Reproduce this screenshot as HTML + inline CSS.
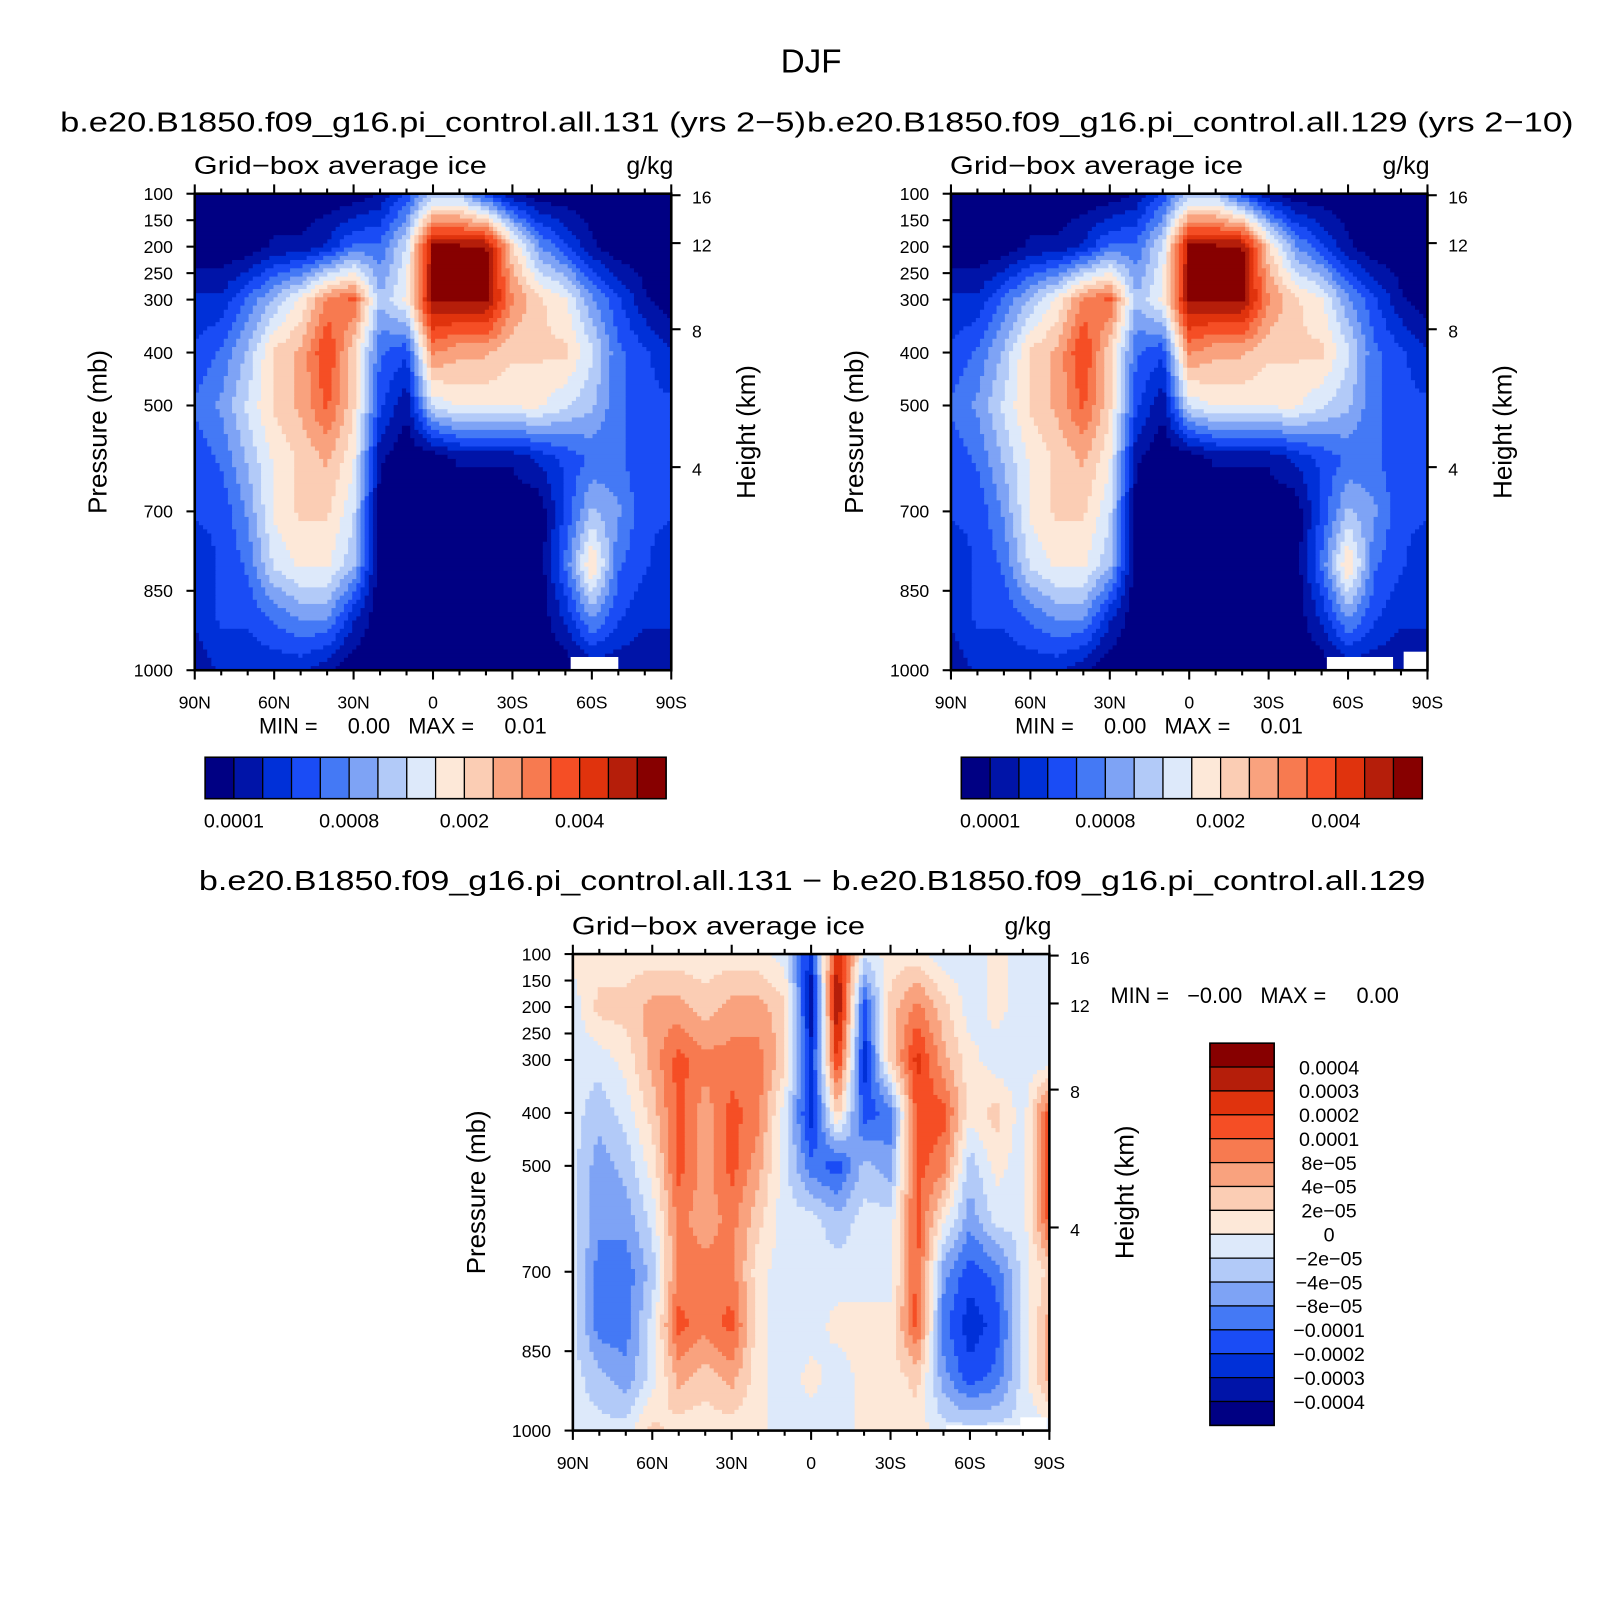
<!DOCTYPE html>
<html><head><meta charset="utf-8"><style>
body{margin:0;background:#fff;}
svg text{font-family:"Liberation Sans",sans-serif;fill:#000;}
</style></head><body>
<svg id="root" width="1616" height="1616" viewBox="0 0 1616 1616" xmlns="http://www.w3.org/2000/svg">
<g transform="scale(1.0359)">
<text x="783" y="70" font-size="32" text-anchor="middle">DJF</text>
<text x="58" y="127" font-size="27" textLength="720" lengthAdjust="spacingAndGlyphs">b.e20.B1850.f09_g16.pi_control.all.131 (yrs 2−5)</text>
<text x="779" y="127" font-size="27" textLength="740" lengthAdjust="spacingAndGlyphs">b.e20.B1850.f09_g16.pi_control.all.129 (yrs 2−10)</text>
<text x="192" y="859" font-size="27" textLength="1184" lengthAdjust="spacingAndGlyphs">b.e20.B1850.f09_g16.pi_control.all.131 − b.e20.B1850.f09_g16.pi_control.all.129</text>
<g id="panels"></g>
</g>
</svg>
<script>
const palette=['#000083','#0014a8','#0030d8','#1a4cf5','#4479f5','#7ea3f5','#b2caf8','#dde9fa','#fde8d8','#fbcdb4','#f9a27e','#f77a50','#f54e25','#e0330d','#b51e0a','#870000'];
const latLabels=['90N','60N','30N','0','30S','60S','90S'];
const presLabels=[100,150,200,250,300,400,500,700,850,1000];
const heightLabels=[16,12,8,4];
const cbarLabelsTop=['0.0001','0.0008','0.002','0.004'];
const cbarLabelsDiff=['0.0004','0.0003','0.0002','0.0001','8e−05','4e−05','2e−05','0','−2e−05','−4e−05','−8e−05','−0.0001','−0.0002','−0.0003','−0.0004'];
// rows: p=100..1000 step 100; cols: 90N..90S step 10 deg; values are contour class 0..15
const iceA=[
[0,0,0,0,0,0,0,1,3,6,6,3,1,0,0,0,0,0,0],
[0,0,0,1,1,2,4,4,7,15,15,15,9,5,3,1,0,0,0],
[2,2,4,6,8,11,12,6,8,15,15,15,11,9,8,5,3,1,0],
[3,4,6,9,10,13,9,4,3,11,10,10,9,9,9,7,4,3,2],
[4,5,7,9,10,12,9,3,1,7,8,8,8,8,7,6,4,3,3],
[3,4,6,8,9,10,8,1,0,0,1,1,1,2,3,4,4,3,3],
[3,3,5,8,9,9,7,0,0,0,0,0,0,0,3,6,5,3,3],
[2,3,4,7,8,8,6,0,0,0,0,0,0,0,4,9,4,3,2],
[2,3,3,4,5,5,2,0,0,0,0,0,0,0,2,5,3,2,2],
[1,2,2,2,2,1,0,0,0,0,0,0,0,0,0,1,1,1,1]];
const iceB=[
[0,0,0,0,0,0,0,1,3,6,6,3,1,0,0,0,0,0,0],
[0,0,0,1,1,2,4,4,7,15,15,15,9,5,3,1,0,0,0],
[2,2,4,6,8,11,12,6,8,15,15,15,11,9,8,5,3,1,0],
[3,4,6,9,10,13,9,4,3,11,10,10,9,9,9,7,4,3,2],
[4,5,7,9,10,12,9,3,1,7,8,8,8,8,7,6,4,3,3],
[3,4,6,8,9,10,8,1,0,0,1,1,1,2,3,4,4,3,3],
[3,3,5,8,9,9,7,0,0,0,0,0,0,0,3,6,5,3,3],
[2,3,4,7,8,8,6,0,0,0,0,0,0,0,4,9,4,3,2],
[2,3,3,4,5,5,2,0,0,0,0,0,0,0,2,5,3,2,2],
[1,2,2,2,2,1,0,0,0,0,0,0,0,0,0,1,1,1,1]];
const iceDiff=[
[8,8,8,8,8,8,8,8,7,2,14,7,8,8,7,7,8,7,7],
[7,9,9,10,10,9,10,10,9,1,15,3,9,11,9,7,8,7,7],
[7,7,8,10,12,11,11,11,9,2,13,2,9,13,10,8,7,7,7],
[7,6,7,9,12,10,12,11,7,2,9,3,4,12,12,8,9,7,12],
[7,5,6,8,12,10,12,10,7,4,3,6,5,12,11,6,8,7,12],
[7,5,5,7,11,10,11,9,7,7,6,7,7,12,8,5,7,7,12],
[7,4,4,6,11,11,11,8,7,7,7,7,7,12,5,3,4,7,9],
[7,4,4,7,12,11,12,8,7,7,8,8,8,12,4,2,3,7,10],
[7,6,5,7,10,9,10,8,7,8,7,8,8,9,5,3,4,7,10],
[7,7,7,9,8,8,8,8,7,7,7,8,8,8,7,7,7,7,7]];

const NS='http://www.w3.org/2000/svg';
const root=document.getElementById('panels');
function el(tag,attrs,parent,text){const e=document.createElementNS(NS,tag);for(const k in attrs)e.setAttribute(k,attrs[k]);if(text!==undefined)e.textContent=text;(parent||root).appendChild(e);return e;}
function p2h(z){return z<=11?1013.25*Math.pow(1-6.5*z/288.15,5.2559):226.32*Math.exp(-(z-11)/6.3416);}

function panel(x0,y0,data,name,holes,bias){
  const W=460,H=460;
  const g=el('g',{});
  
  
  const xs=lat=>x0+(90-lat)/180*W;
  const ys=p=>y0+(p-100)/900*H;
  const nr=data.length,nc=data[0].length,N=115,cw=W/N;
  function val(fx,fy){const cx=fx*(nc-1),cy=fy*(nr-1);const i=Math.min(Math.floor(cx),nc-2),j=Math.min(Math.floor(cy),nr-2);const tx=cx-i,ty=cy-j;
    return data[j][i]*(1-tx)*(1-ty)+data[j][i+1]*tx*(1-ty)+data[j+1][i]*(1-tx)*ty+data[j+1][i+1]*tx*ty;}
  for(let r=0;r<N;r++){let start=0,cur=-1;
    for(let c=0;c<=N;c++){let k=-2;if(c<N){k=Math.max(0,Math.min(15,Math.floor(val((c+.5)/N,(r+.5)/N)+bias)));}
      if(k!==cur){if(cur>=0){const rc=el('rect',{x:(x0+start*cw).toFixed(2),y:(y0+r*cw).toFixed(2),width:((c-start)*cw+0.6).toFixed(2),height:(cw+0.6).toFixed(2),fill:palette[cur]},g);
          
          }
        start=c;cur=k;}}}
  holes.forEach(h=>{el('rect',{x:xs(h[0]),y:ys(h[2]),width:xs(h[1])-xs(h[0]),height:y0+H-ys(h[2]),fill:'#fff'},g);});
  const fr=el('rect',{x:x0,y:y0,width:W,height:H,fill:'none',stroke:'#000','stroke-width':2.5},g);
  
  
  for(let lat=90;lat>=-90;lat-=10){const x=xs(lat),L=lat%30===0?9:5;
    el('line',{x1:x,x2:x,y1:y0+H,y2:y0+H+L,stroke:'#000','stroke-width':2},g);
    el('line',{x1:x,x2:x,y1:y0,y2:y0-L,stroke:'#000','stroke-width':2},g);}
  latLabels.forEach((t,i)=>{const tx=el('text',{x:xs(90-i*30),y:y0+H+37,'font-size':17,'text-anchor':'middle'},g,t);
    
    });
  presLabels.forEach(p=>{const y=ys(p);el('line',{x1:x0-8,x2:x0,y1:y,y2:y,stroke:'#000','stroke-width':2},g);
    const tx=el('text',{x:x0-21,y:y+6,'font-size':17,'text-anchor':'end'},g,p);
    
    });
  heightLabels.forEach(z=>{const y=ys(p2h(z));el('line',{x1:x0+W,x2:x0+W+9,y1:y,y2:y,stroke:'#000','stroke-width':2},g);
    const tx=el('text',{x:x0+W+20,y:y+8,'font-size':17},g,z);
    
    });
  const a=el('text',{x:0,y:0,'font-size':25,'text-anchor':'middle',transform:`translate(${x0-85},${y0+230}) rotate(-90)`},g,'Pressure (mb)');
  
  
  const b=el('text',{x:0,y:0,'font-size':25,'text-anchor':'middle',transform:`translate(${x0+W+81},${y0+230}) rotate(-90)`},g,'Height (km)');
  
  
  const c=el('text',{x:x0-1,y:y0-19,'font-size':24,textLength:283,lengthAdjust:'spacingAndGlyphs'},g,'Grid−box average ice');
  
  
  const d=el('text',{x:x0+W+2,y:y0-19,'font-size':24,'text-anchor':'end'},g,'g/kg');
  
  
}
function hbar(x0,y0,name){const g=el('g',{});
  
  
  const w=445/16;palette.forEach((c,i)=>{const r=el('rect',{x:x0+i*w,y:y0,width:w,height:40,fill:c,stroke:'#000','stroke-width':1.2},g);
    
    });
  el('rect',{x:x0,y:y0,width:445,height:40,fill:'none',stroke:'#000','stroke-width':1.5},g);
  cbarLabelsTop.forEach((t,i)=>{const tx=el('text',{x:x0+(1+4*i)*w,y:y0+68,'font-size':19,'text-anchor':'middle'},g,t);
    
    });
  const m=el('text',{x:x0+52,y:y0-23,'font-size':21},g,'MIN =     0.00   MAX =     0.01');
  
  
  m.style.whiteSpace='pre';
}
panel(188,187,iceA,'left-contour-panel',[[-52,-70,975]],0.2);
panel(918,187,iceB,'right-contour-panel',[[-52,-77,975],[-81,-90,965]],0.2);
panel(553,921,iceDiff,'diff-contour-panel',[[-51,-79,990],[-79,-89,975]],0.4);
hbar(198,731,'left-colorbar');
hbar(928,731,'right-colorbar');
(function(){const g=el('g',{});
  
  
  const x0=1168,y0=1007,h=369/16;
  for(let i=0;i<16;i++){const r=el('rect',{x:x0,y:y0+i*h,width:62,height:h,fill:palette[15-i],stroke:'#000','stroke-width':1.2},g);
    
    }
  el('rect',{x:x0,y:y0,width:62,height:369,fill:'none',stroke:'#000','stroke-width':1.5},g);
  cbarLabelsDiff.forEach((t,i)=>{const tx=el('text',{x:1283,y:y0+(i+1)*h+7,'font-size':19,'text-anchor':'middle'},g,t);
    
    });
  const m=el('text',{x:1072,y:968,'font-size':21},g,'MIN =   −0.00   MAX =     0.00');
  
  
  m.style.whiteSpace='pre';
})();
</script>
</body></html>
